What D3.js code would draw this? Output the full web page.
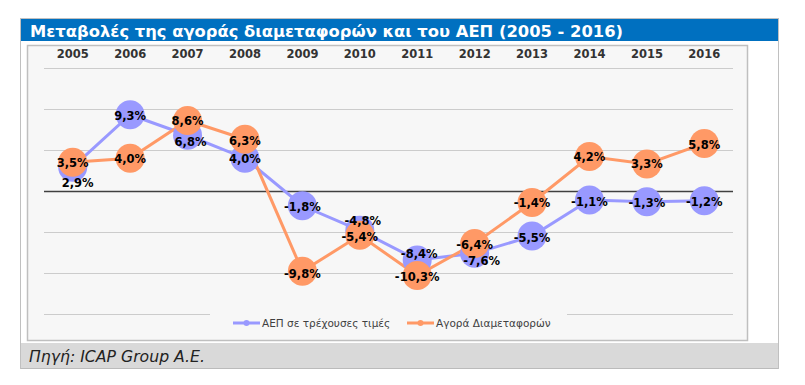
<!DOCTYPE html>
<html><head><meta charset="utf-8">
<script src="https://cdn.jsdelivr.net/npm/d3@7/dist/d3.min.js"></script>
<style>body{margin:0;background:#fff}svg{display:block}</style>
</head><body>
<svg id="c" width="805" height="385"></svg>
<script>
const years = ["2005","2006","2007","2008","2009","2010","2011","2012","2013","2014","2015","2016"];
const gdp = [2.9, 9.3, 6.8, 4.0, -1.8, -4.8, -8.4, -7.6, -5.5, -1.1, -1.3, -1.2];
const market = [3.5, 4.0, 8.6, 6.3, -9.8, -5.4, -10.3, -6.4, -1.4, 4.2, 3.3, 5.8];
const gridTicks = [-15, -10, -5, 0, 5, 10, 15];
const seriesNames = ["ΑΕΠ σε τρέχουσες τιμές", "Αγορά Διαμεταφορών"];
const titleText = "Μεταβολές της αγοράς διαμεταφορών και του ΑΕΠ (2005 - 2016)";
const sourceText = "Πηγή: ICAP Group A.E.";

// label placement tweaks (dx, dy) per point
const gdpLabelShift = [[5,16],[0,2],[3,7],[0,1],[0,2],[3,-9],[2,-5],[7,8],[0,2],[0,2],[0,2],[0,2]];
const mktLabelShift = [[0,1],[0,1],[0,1],[0,2],[0,3],[0,2],[0,2],[0,2],[0,1],[0,1],[0,1],[0,2]];

const svg = d3.select("#c");
const colGdp = "#9999FF", colMkt = "#FF9966";
const FONT = "Verdana, DejaVu Sans, sans-serif";

// outer frame
svg.append("rect").attr("x",20.5).attr("y",18.5).attr("width",758).attr("height",350)
  .attr("fill","#fff").attr("stroke","#c0c0c0");
svg.append("rect").attr("x",21).attr("y",19).attr("width",757).attr("height",22).attr("fill","#0070C0");
svg.append("text").attr("x",30).attr("y",37).text(titleText)
  .attr("fill","#fff").attr("font-family",FONT)
  .attr("font-weight","bold").attr("font-size",16.5).attr("textLength",593).attr("lengthAdjust","spacingAndGlyphs");
// footer
svg.append("rect").attr("x",21).attr("y",343).attr("width",757).attr("height",25).attr("fill","#D9D9D9");
svg.append("line").attr("x1",21).attr("x2",778).attr("y1",368.5).attr("y2",368.5).attr("stroke","#bbb");
svg.append("text").attr("x",29).attr("y",362).text(sourceText)
  .attr("font-family",FONT).attr("font-style","italic")
  .attr("font-size",15).attr("fill","#222").attr("textLength",176).attr("lengthAdjust","spacingAndGlyphs");

// plot box
svg.append("rect").attr("x",27.5).attr("y",45.5).attr("width",720).attr("height",295)
  .attr("fill","#F7F7F7").attr("stroke","#BFBFBF").attr("stroke-width",1.5);

const x = d3.scaleBand().domain(years).range([44,733]);
const y = d3.scaleLinear().domain([-15,15]).range([314,68]);
const cx = d => x(d) + x.bandwidth()/2;

// gridlines
svg.append("g").selectAll("line").data(gridTicks).join("line")
  .attr("x1",44).attr("x2",733)
  .attr("y1",d=>Math.round(y(d))+0.5).attr("y2",d=>Math.round(y(d))+0.5)
  .attr("stroke",d=>d===0?"#404040":"#CCCCCC").attr("stroke-width",d=>d===0?1.5:1.2);

// top axis labels
const xAxis = d3.axisTop(x).tickSize(0).tickPadding(0);
const ax = svg.append("g").attr("transform","translate(0,58)").call(xAxis);
ax.select(".domain").remove();
ax.selectAll("text").attr("font-family",FONT)
  .attr("font-weight","bold").attr("font-size",11.5).attr("fill","#333");

// legend box hides gridline
svg.append("rect").attr("x",210).attr("y",311).attr("width",357).attr("height",22).attr("fill","#F7F7F7");

const line = d3.line().x((d,i)=>cx(years[i])).y(d=>y(d));
function drawSeries(vals, col){
  svg.append("path").datum(vals).attr("d",line).attr("fill","none").attr("stroke",col).attr("stroke-width",3);
}
function drawDots(vals, col){
  svg.append("g").selectAll("circle").data(vals).join("circle")
    .attr("cx",(d,i)=>cx(years[i])).attr("cy",d=>y(d)).attr("r",14.5).attr("fill",col);
}
drawSeries(gdp,colGdp);
drawSeries(market,colMkt);
drawDots(gdp,colGdp);
drawDots(market,colMkt);

const fmt = v => d3.format(".1f")(v).replace(".",",").replace("−","-") + "%";
function drawLabels(vals, shifts){
  svg.append("g").selectAll("text").data(vals).join("text")
    .attr("x",(d,i)=>cx(years[i])+shifts[i][0]).attr("y",(d,i)=>y(d)+shifts[i][1])
    .attr("text-anchor","middle").attr("dominant-baseline","middle")
    .attr("font-family",FONT).attr("font-weight","bold")
    .attr("font-size",11.5).attr("fill","#000").text(fmt);
}
drawLabels(gdp,gdpLabelShift);
drawLabels(market,mktLabelShift);

// legend
const leg = [{x:233,col:colGdp,name:seriesNames[0]},{x:407,col:colMkt,name:seriesNames[1]}];
leg.forEach(l=>{
  svg.append("line").attr("x1",l.x).attr("x2",l.x+27).attr("y1",323).attr("y2",323).attr("stroke",l.col).attr("stroke-width",3);
  svg.append("circle").attr("cx",l.x+13.5).attr("cy",323).attr("r",3).attr("fill",l.col);
  svg.append("text").attr("x",l.x+29).attr("y",327).text(l.name)
    .attr("font-family",FONT).attr("font-size",10.5).attr("fill","#404040");
});
</script>
</body></html>
